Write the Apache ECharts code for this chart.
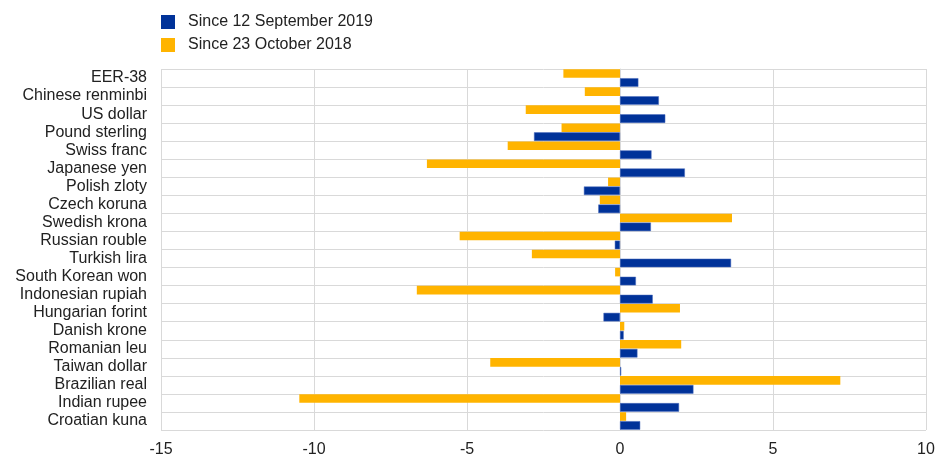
<!DOCTYPE html>
<html>
<head>
<meta charset="utf-8">
<script src="https://cdn.jsdelivr.net/npm/echarts@6/dist/echarts.min.js"></script>
<style>
  html, body { margin: 0; padding: 0; background: #fff; }
  #main { width: 938px; height: 459px; }
</style>
</head>
<body>
<div id="main"></div>
<script>
// currencies, top to bottom
var currencies = ['EER-38', 'Chinese renminbi', 'US dollar', 'Pound sterling', 'Swiss franc',
    'Japanese yen', 'Polish zloty', 'Czech koruna', 'Swedish krona', 'Russian rouble',
    'Turkish lira', 'South Korean won', 'Indonesian rupiah', 'Hungarian forint', 'Danish krone',
    'Romanian leu', 'Taiwan dollar', 'Brazilian real', 'Indian rupee', 'Croatian kuna'];

// percentage changes
var sinceSep2019 = [0.60, 1.27, 1.48, -2.81, 1.03, 2.12, -1.18, -0.71, 1.01, -0.17,
    3.63, 0.52, 1.07, -0.54, 0.12, 0.57, 0.04, 2.40, 1.93, 0.66];
var sinceOct2018 = [-1.85, -1.15, -3.08, -1.91, -3.67, -6.31, -0.39, -0.66, 3.66, -5.24,
    -2.88, -0.16, -6.64, 1.96, 0.14, 2.00, -4.24, 7.20, -10.48, 0.20];

var xTicks = { min: -15, max: 10, interval: 5 };

var blue = '#003299';
var yellow = '#ffb400';
var gridColor = '#d9d9d9';

var myChart = echarts.init(document.getElementById('main'));

var option = {
    animation: false,
    textStyle: { fontFamily: 'Liberation Sans, Arial, sans-serif' },
    legend: {
        orient: 'vertical',
        left: 156,
        top: 9,
        itemWidth: 14,
        itemHeight: 14,
        itemGap: 7,
        icon: 'rect',
        itemStyle: { borderWidth: 0 },
        data: ['Since 12 September 2019', 'Since 23 October 2018'],
        textStyle: { fontSize: 16, color: '#222', padding: [0, 0, 0, 8] }
    },
    grid: { left: 161, right: 12, top: 69, bottom: 29 },
    xAxis: {
        type: 'value',
        min: xTicks.min,
        max: xTicks.max,
        interval: xTicks.interval,
        axisLine: { show: false },
        axisTick: { show: false },
        axisLabel: { fontSize: 16, color: '#222', margin: 12 },
        splitLine: { lineStyle: { color: gridColor, width: 1 } }
    },
    yAxis: {
        type: 'category',
        data: currencies,
        inverse: true,
        axisLine: { show: true, lineStyle: { color: gridColor } },
        axisTick: { show: false },
        axisLabel: { fontSize: 16, color: '#222', margin: 14, interval: 0 },
        splitLine: { show: true, interval: 0, lineStyle: { color: gridColor, width: 1 } }
    },
    series: [
        {
            name: 'Since 23 October 2018',
            type: 'bar',
            data: sinceOct2018,
            barGap: '4%',
            barCategoryGap: '3%',
            itemStyle: { color: yellow }
        },
        {
            name: 'Since 12 September 2019',
            type: 'bar',
            data: sinceSep2019,
            itemStyle: { color: blue, borderColor: '#4d6fbf', borderWidth: 0.5 }
        }
    ]
};

myChart.setOption(option);
</script>
</body>
</html>
